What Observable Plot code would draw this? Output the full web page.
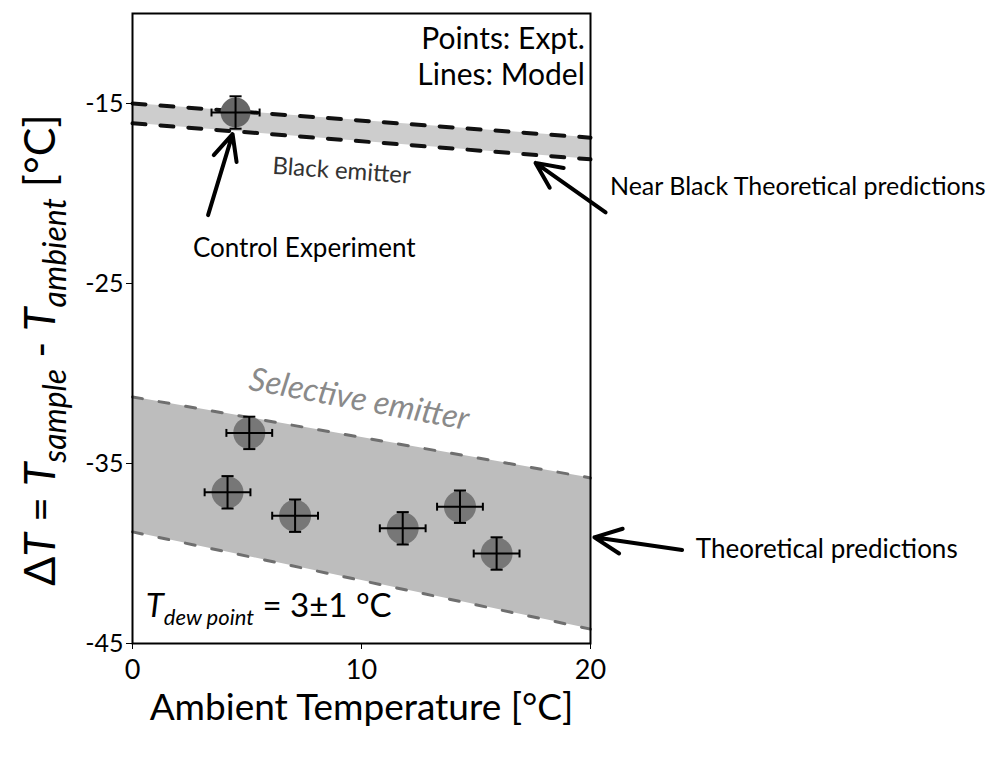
<!DOCTYPE html>
<html><head><meta charset="utf-8">
<script src="https://cdn.jsdelivr.net/npm/d3@7"></script>
<script src="https://cdn.jsdelivr.net/npm/@observablehq/plot@0.6"></script>
<style>body{margin:0;background:#fff} svg{display:block}</style>
</head><body><div id="chart"></div>
<script>
// ---- data ----
const modelX = [0, 20];
const blackUpper = [-15.0, -16.9];
const blackLower = [-16.1, -18.1];
const selUpper = [-31.3, -35.8];
const selLower = [-38.8, -44.2];

const ctrlX = [4.5];
const ctrlY = [-15.5];
const ctrlXErr = [1.05];
const ctrlYErr = [0.9];

const exptX = [5.1, 4.15, 7.1, 11.8, 14.3, 15.9];
const exptY = [-33.3, -36.6, -37.9, -38.6, -37.4, -40.0];
const exptXErr = [1.0, 1.0, 1.0, 1.0, 1.0, 1.0];
const exptYErr = [0.9, 0.9, 0.9, 0.9, 0.9, 0.9];

const xTicks = [0, 10, 20];
const yTicks = [-15, -25, -35, -45];

const xLabel = "Ambient Temperature [°C]";
const legendLines = ["Points: Expt.", "Lines: Model"];

// arrows: tail (x1,y1) -> head (x2,y2), in data units
const arrowX1 = [3.3, 20.66, 24.0];
const arrowY1 = [-21.2, -21.05, -39.8];
const arrowX2 = [4.37, 17.6, 20.17];
const arrowY2 = [-16.7, -18.3, -39.1];

// ---- tables ----
const blackBand = modelX.map((x, i) => ({x, hi: blackUpper[i], lo: blackLower[i]}));
const selBand = modelX.map((x, i) => ({x, hi: selUpper[i], lo: selLower[i]}));
const ctrl = ctrlX.map((x, i) => ({x, y: ctrlY[i], xe: ctrlXErr[i], ye: ctrlYErr[i]}));
const expt = exptX.map((x, i) => ({x, y: exptY[i], xe: exptXErr[i], ye: exptYErr[i]}));
const allPts = ctrl.concat(expt);
const arrows = arrowX1.map((x1, i) => ({x1, y1: arrowY1[i], x2: arrowX2[i], y2: arrowY2[i]}));

const cap = 0.22;
const font = "Lato, 'Open Sans', sans-serif";

const plot = Plot.plot({
  width: 1008,
  height: 767,
  marginLeft: 132,
  marginRight: 418,
  marginTop: 13,
  marginBottom: 124,
  style: {fontFamily: font, background: "#fff", color: "#000", overflow: "visible"},
  x: {domain: [0, 20]},
  y: {domain: [-45, -10]},
  marks: [
    Plot.areaY(blackBand, {x: "x", y1: "lo", y2: "hi", fill: "#cdcdcd"}),
    Plot.areaY(selBand, {x: "x", y1: "lo", y2: "hi", fill: "#bdbdbd"}),
    Plot.line(blackBand, {x: "x", y: "hi", stroke: "#111", strokeWidth: 4, strokeDasharray: "13,15"}),
    Plot.line(blackBand, {x: "x", y: "lo", stroke: "#111", strokeWidth: 4, strokeDasharray: "13,15"}),
    Plot.line(selBand, {x: "x", y: "hi", stroke: "#6f6f6f", strokeWidth: 3, strokeDasharray: "10,17"}),
    Plot.line(selBand, {x: "x", y: "lo", stroke: "#6f6f6f", strokeWidth: 3, strokeDasharray: "10,17"}),
    Plot.dot(expt, {x: "x", y: "y", r: 16, fill: "#777", stroke: null}),
    Plot.dot(ctrl, {x: "x", y: "y", r: 15, fill: "#666", stroke: null}),
    // error bars
    Plot.link(allPts, {x1: d => d.x - d.xe, x2: d => d.x + d.xe, y1: "y", y2: "y", stroke: "#000", strokeWidth: 2}),
    Plot.link(allPts, {x1: "x", x2: "x", y1: d => d.y - d.ye, y2: d => d.y + d.ye, stroke: "#000", strokeWidth: 2}),
    Plot.link(allPts, {x1: d => d.x - d.xe, x2: d => d.x - d.xe, y1: d => d.y - cap, y2: d => d.y + cap, stroke: "#000", strokeWidth: 2}),
    Plot.link(allPts, {x1: d => d.x + d.xe, x2: d => d.x + d.xe, y1: d => d.y - cap, y2: d => d.y + cap, stroke: "#000", strokeWidth: 2}),
    Plot.link(allPts, {x1: d => d.x - cap * 1.2, x2: d => d.x + cap * 1.2, y1: d => d.y + d.ye, y2: d => d.y + d.ye, stroke: "#000", strokeWidth: 2}),
    Plot.link(allPts, {x1: d => d.x - cap * 1.2, x2: d => d.x + cap * 1.2, y1: d => d.y - d.ye, y2: d => d.y - d.ye, stroke: "#000", strokeWidth: 2}),
    Plot.frame({stroke: "#000", strokeWidth: 2}),
    Plot.axisX({ticks: xTicks, tickSize: 6, tickPadding: 10, fontSize: 27, label: null, tickFormat: d => String(d)}),
    Plot.axisY({ticks: yTicks, tickSize: 6, tickPadding: 3, fontSize: 25, label: null, tickFormat: d => String(d)}),
    Plot.text([xLabel], {frameAnchor: "bottom", dy: 76, fontSize: 37, fill: "#000"}),
    Plot.arrow(arrows, {x1: "x1", y1: "y1", x2: "x2", y2: "y2", stroke: "#000", strokeWidth: 4, headLength: 16, headAngle: 50}),
    Plot.text([legendLines[0]], {x: 19.75, y: -11.45, textAnchor: "end", fontSize: 30, fill: "#000"}),
    Plot.text([legendLines[1]], {x: 19.75, y: -13.45, textAnchor: "end", fontSize: 30, fill: "#000"}),
    Plot.text(["Black emitter"], {x: 9.13, y: -18.75, fontSize: 24, fill: "#333", rotate: 4}),
    Plot.text(["Control Experiment"], {x: 7.5, y: -23.05, fontSize: 26, fill: "#000"}),
    Plot.text(["Selective emitter"], {x: 9.9, y: -31.45, fontSize: 32.5, fill: "#8a8a8a", fontStyle: "italic", rotate: 10.5}),
    Plot.text(["Near Black Theoretical predictions"], {x: 20.85, y: -19.65, textAnchor: "start", fontSize: 25, fill: "#000"}),
    Plot.text(["Theoretical predictions"], {x: 24.6, y: -39.8, textAnchor: "start", fontSize: 26, fill: "#000"})
  ]
});

document.getElementById("chart").appendChild(plot);

// rich-text labels with subscripts
const svg = d3.select(plot);
const sx = plot.scale("x"), sy = plot.scale("y");

const ylab = svg.append("text")
  .attr("transform", `translate(55,${(sy.apply(-10) + sy.apply(-45)) / 2 + 22}) rotate(-90)`)
  .attr("text-anchor", "middle")
  .attr("font-family", font)
  .attr("font-size", 43)
  .attr("fill", "#000");
ylab.append("tspan").text("Δ");
ylab.append("tspan").attr("font-style", "italic").text("T");
ylab.append("tspan").text(" = ");
ylab.append("tspan").attr("font-style", "italic").text("T");
ylab.append("tspan").attr("font-style", "italic").attr("font-size", 32).attr("dy", 11).text("sample");
ylab.append("tspan").attr("dy", -11).text(" - ");
ylab.append("tspan").attr("font-style", "italic").text("T");
ylab.append("tspan").attr("font-style", "italic").attr("font-size", 32).attr("dy", 11).text("ambient");
ylab.append("tspan").attr("dy", -11).text(" [°C]");

const dew = svg.append("text")
  .attr("x", sx.apply(0.6))
  .attr("y", sy.apply(-43.2) + 6)
  .attr("text-anchor", "start")
  .attr("font-family", font)
  .attr("font-size", 33)
  .attr("fill", "#000");
dew.append("tspan").attr("font-style", "italic").text("T");
dew.append("tspan").attr("font-style", "italic").attr("font-size", 22).attr("dy", 8).text("dew point");
dew.append("tspan").attr("dy", -8).text(" = 3±1 °C");
</script>
</body></html>
